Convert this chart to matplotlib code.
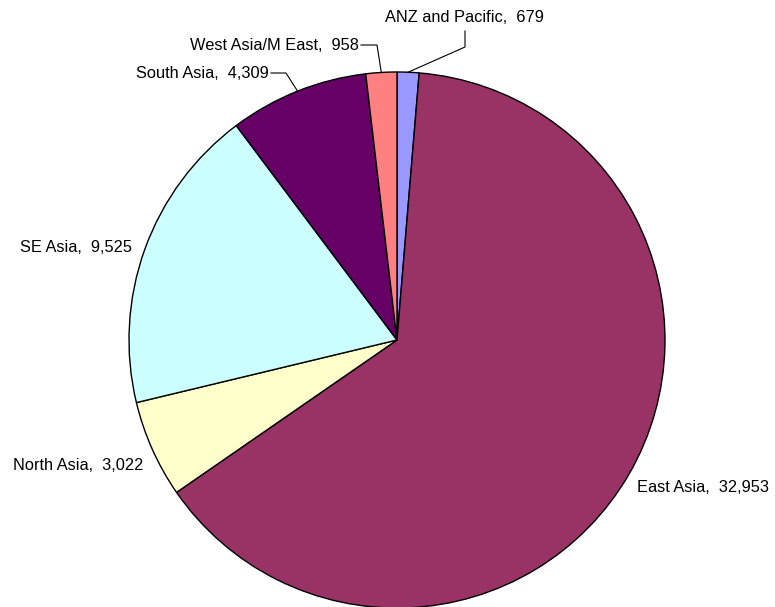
import matplotlib.pyplot as plt
import numpy as np

# regions listed clockwise from 12 o'clock
regions = ['ANZ and Pacific', 'East Asia', 'North Asia', 'SE Asia', 'South Asia', 'West Asia/M East']
values = [679, 32953, 3022, 9525, 4309, 958]
colors = ['#9999FF', '#993366', '#FFFFCC', '#CCFFFF', '#660066', '#FF8080']

H = 607
cx, cy, r = 397, H - 340, 268

plt.rcParams['font.family'] = ['Liberation Sans', 'DejaVu Sans']
fig = plt.figure(figsize=(7.75, 6.07), dpi=100)
ax = fig.add_axes([0, 0, 1, 1])
wedges, _ = ax.pie(values, colors=colors, startangle=90, counterclock=False,
                   center=(cx, cy), radius=r,
                   wedgeprops=dict(edgecolor='black', linewidth=1))
ax.set_xlim(0, 775)
ax.set_ylim(0, H)
ax.set_aspect('equal')
ax.axis('off')


def edge_point(w):
    mid = np.deg2rad((w.theta1 + w.theta2) / 2)
    return cx + r * np.cos(mid), cy + r * np.sin(mid)


def label(i):
    return f'{regions[i]},  {values[i]:,}'


# label text positions (pixels from top-left) and optional elbow points of leader lines
layout = {
    0: dict(x=385, y=18, ha='left', line=[(465, 31), (465, 47)]),
    5: dict(x=359, y=45, ha='right', line=[(361, 45), (377, 45)]),
    4: dict(x=269, y=73, ha='right', line=[(271, 73), (286, 73)]),
    3: dict(x=20, y=247, ha='left', line=None),
    2: dict(x=13, y=465, ha='left', line=None),
    1: dict(x=637, y=488, ha='left', line=None),
}

for i, opt in layout.items():
    ax.text(opt['x'], H - opt['y'], label(i), ha=opt['ha'], va='center', fontsize=11.8, color='black')
    if opt['line']:
        pts = [(px, H - py) for px, py in opt['line']] + [edge_point(wedges[i])]
        xs, ys = zip(*pts)
        ax.plot(xs, ys, color='black', linewidth=0.8)

plt.savefig('out.png', dpi=100)
